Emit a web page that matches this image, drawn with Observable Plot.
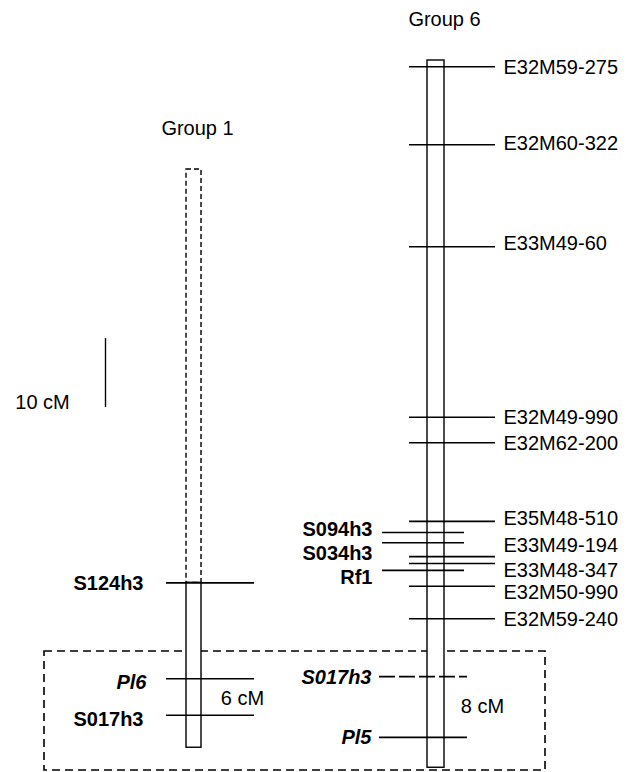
<!DOCTYPE html>
<html>
<head>
<meta charset="utf-8">
<script src="https://cdn.jsdelivr.net/npm/d3@7"></script>
<script src="https://cdn.jsdelivr.net/npm/@observablehq/plot@0.6"></script>
<style>
  html, body { margin: 0; padding: 0; background: #fff; }
  #chart svg { display: block; }
</style>
</head>
<body>
<div id="chart"></div>
<script>
// ---- Data (map positions in cM from the top of each linkage group) ----
const groupNames = ["Group 1", "Group 6"];
const groupStart = [15.8, 0];      // top of drawn group
const groupSolidStart = [75.7, 0]; // group 1 upper part is dashed (unlinked)
const groupEnd = [99.6, 102.5];

const g1Markers = ["S124h3", "Pl6", "S017h3"];
const g1Pos = [75.7, 89.6, 94.9];
const g1LabelPos = [75.8, 90.1, 95.5];
const g1Kind = ["SSR", "gene", "SSR"];

const g6Markers = ["E32M59-275", "E32M60-322", "E33M49-60", "E32M49-990", "E32M62-200",
  "E35M48-510", "S094h3", "S034h3", "E33M49-194", "E33M48-347", "Rf1",
  "E32M50-990", "E32M59-240", "S017h3", "Pl5"];
const g6Pos = [0.9, 12.2, 27.0, 51.7, 55.4, 66.8, 68.4, 69.9, 71.9, 72.9, 73.9, 76.2, 80.9, 89.3, 98.1];
const g6LabelPos = [1.0, 12.0, 26.5, 51.7, 55.5, 66.4, 68.0, 71.5, 70.3, 73.9, 74.9, 77.1, 81.0, 89.4, 98.1];
const g6Kind = ["AFLP", "AFLP", "AFLP", "AFLP", "AFLP", "AFLP", "SSR", "SSR", "AFLP", "AFLP", "SSR",
  "AFLP", "AFLP", "SSRputative", "gene"];

const intervalLabels = ["6 cM", "8 cM"];
const intervalPos = [92.5, 93.6];
const scaleBarLength = 10; // cM
const scaleBarLabel = "10 cM";
const boxRange = [85.65, 102.9];

// ---- Layout ----
const FONT = "Liberation Sans, Arial, Helvetica, sans-serif";
const chromX = [[186, 201], [427, 444]];

const g1 = g1Markers.map((name, i) => ({name, pos: g1Pos[i], labelPos: g1LabelPos[i], kind: g1Kind[i]}));
const g6 = g6Markers.map((name, i) => ({name, pos: g6Pos[i], labelPos: g6LabelPos[i], kind: g6Kind[i]}));

const g6Right = g6.filter(d => d.kind === "AFLP");
const g6Left = g6.filter(d => d.kind !== "AFLP");

const leftX1 = d => (d.kind === "SSR" ? 382 : 379);
const leftX2 = d => (d.kind === "SSR" ? 464 : 467);

const chart = Plot.plot({
  width: 633,
  height: 772,
  margin: 0,
  style: {background: "#fff"},
  x: {domain: [0, 633], range: [0, 633], axis: null},
  y: {domain: [0, 100], range: [60, 750], axis: null},
  marks: [
    // dashed box around the target region
    Plot.rect([{y1: boxRange[0], y2: boxRange[1]}], {
      x1: () => 44, x2: () => 545, y1: "y1", y2: "y2",
      fill: "none", stroke: "#000", strokeWidth: 1.6, strokeDasharray: "8,5"
    }),
    // group 1 dashed upper part
    Plot.rect([{y1: groupStart[0], y2: groupSolidStart[0]}], {
      x1: () => chromX[0][0], x2: () => chromX[0][1], y1: "y1", y2: "y2",
      fill: "#fff", stroke: "#000", strokeWidth: 1.4, strokeDasharray: "5,3"
    }),
    // group 1 solid part
    Plot.rect([{y1: groupSolidStart[0], y2: groupEnd[0]}], {
      x1: () => chromX[0][0], x2: () => chromX[0][1], y1: "y1", y2: "y2",
      fill: "#fff", stroke: "#000", strokeWidth: 1.4
    }),
    // group 6
    Plot.rect([{y1: groupStart[1], y2: groupEnd[1]}], {
      x1: () => chromX[1][0], x2: () => chromX[1][1], y1: "y1", y2: "y2",
      fill: "#fff", stroke: "#000", strokeWidth: 1.4
    }),
    // group 1 marker lines
    Plot.ruleY(g1, {y: "pos", x1: () => 166, x2: () => 254, stroke: "#000", strokeWidth: 1.6}),
    // group 6 right marker lines
    Plot.ruleY(g6Right, {y: "pos", x1: () => 409, x2: () => 495, stroke: "#000", strokeWidth: 1.6}),
    // group 6 left marker lines
    Plot.ruleY(g6Left.filter(d => d.kind !== "SSRputative"), {y: "pos", x1: leftX1, x2: leftX2, stroke: "#000", strokeWidth: 1.6}),
    Plot.ruleY(g6Left.filter(d => d.kind === "SSRputative"), {y: "pos", x1: leftX1, x2: leftX2, stroke: "#000", strokeWidth: 1.6, strokeDasharray: "16,4"}),
    // scale bar
    Plot.ruleX([{y1: 40.3, y2: 40.3 + scaleBarLength}], {x: () => 105, y1: "y1", y2: "y2", stroke: "#000", strokeWidth: 1.4}),
    Plot.text([scaleBarLabel], {x: () => 42, y: () => 49.6, text: d => d, fontFamily: FONT, fontSize: 20, fill: "#000"}),
    // titles
    Plot.text([groupNames[0]], {x: () => 197, y: () => 9.9, text: d => d, fontFamily: FONT, fontSize: 20, fill: "#000"}),
    Plot.text([groupNames[1]], {x: () => 444, y: () => -5.9, text: d => d, fontFamily: FONT, fontSize: 20, fill: "#000"}),
    // group 6 right labels
    Plot.text(g6Right, {x: () => 503, y: "labelPos", text: "name", textAnchor: "start", fontFamily: FONT, fontSize: 20, fill: "#000"}),
    // group 6 left labels
    Plot.text(g6Left.filter(d => d.kind === "SSR"), {x: () => 372, y: "labelPos", text: "name", textAnchor: "end", fontFamily: FONT, fontSize: 20, fontWeight: "bold", fill: "#000"}),
    Plot.text(g6Left.filter(d => d.kind !== "SSR"), {x: () => 371, y: "labelPos", text: "name", textAnchor: "end", fontFamily: FONT, fontSize: 20, fontWeight: "bold", fontStyle: "italic", fill: "#000"}),
    // group 1 labels
    Plot.text(g1.filter(d => d.kind === "SSR"), {x: () => 143, y: "labelPos", text: "name", textAnchor: "end", fontFamily: FONT, fontSize: 20, fontWeight: "bold", fill: "#000"}),
    Plot.text(g1.filter(d => d.kind === "gene"), {x: () => 146, y: "labelPos", text: "name", textAnchor: "end", fontFamily: FONT, fontSize: 20, fontWeight: "bold", fontStyle: "italic", fill: "#000"}),
    // interval labels
    Plot.text([0, 1], {x: i => [242, 482][i], y: i => intervalPos[i], text: i => intervalLabels[i], fontFamily: FONT, fontSize: 20, fill: "#000"})
  ]
});

document.getElementById("chart").appendChild(chart);
</script>
</body>
</html>
